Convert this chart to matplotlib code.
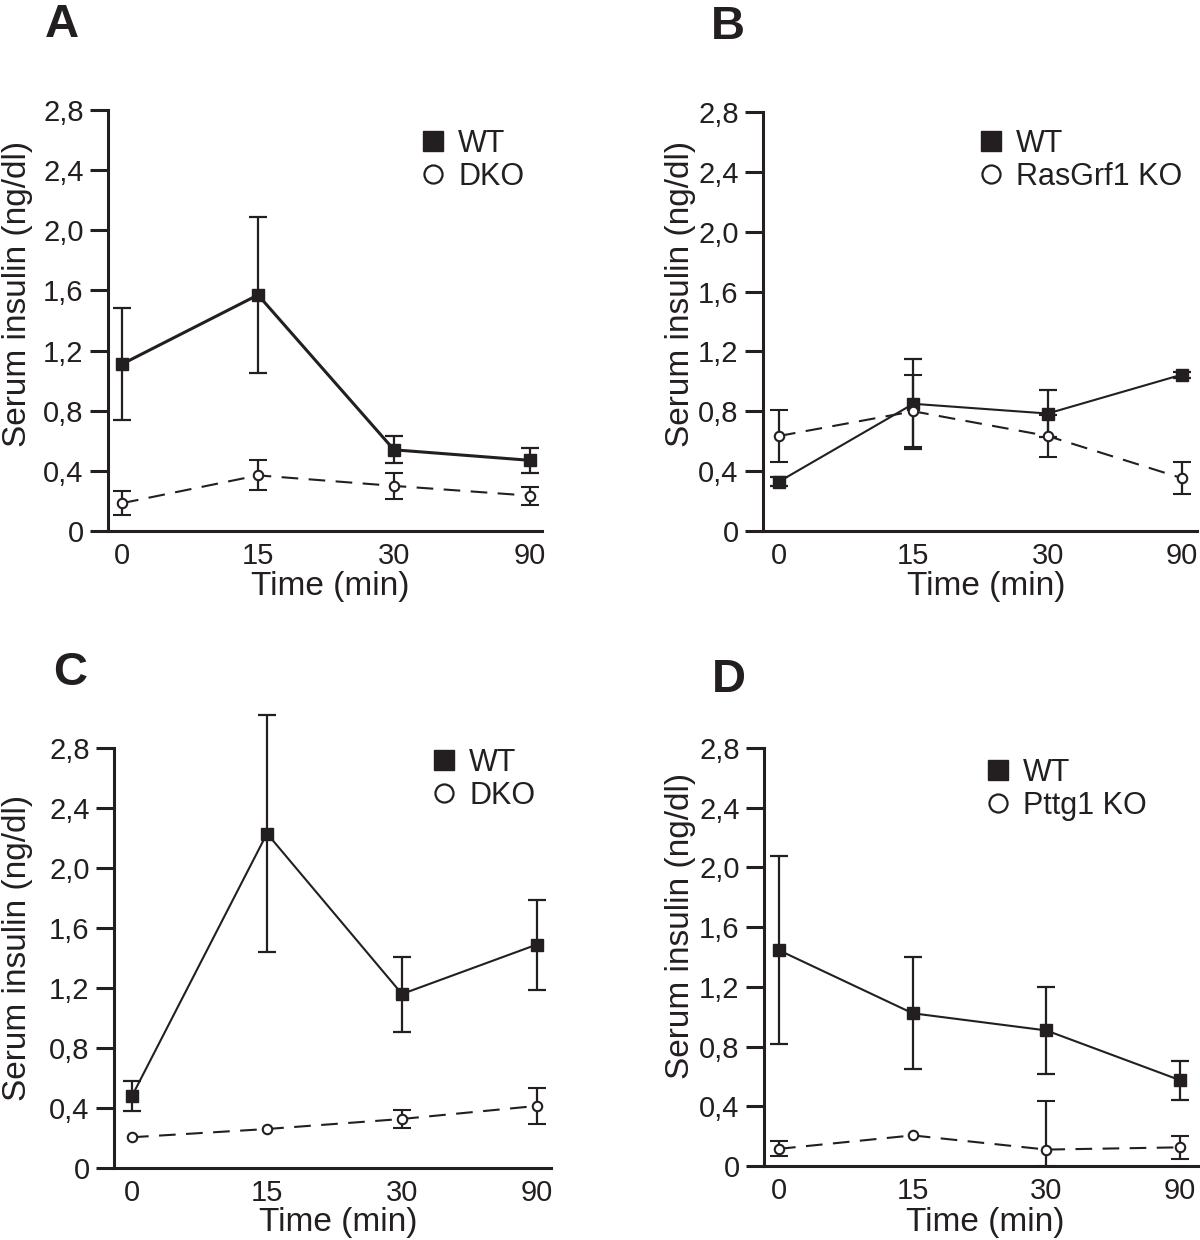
import matplotlib
matplotlib.use('Agg')
import matplotlib.pyplot as plt
from matplotlib.lines import Line2D
import numpy as np

plt.rcParams['font.family'] = ['Liberation Sans', 'DejaVu Sans']
plt.rcParams['lines.scale_dashes'] = False

K = '#231f20'

time_labels = ['0', '15', '30', '90']
ytick_vals = [0, 0.4, 0.8, 1.2, 1.6, 2.0, 2.4, 2.8]
ytick_labels = ['0', '0,4', '0,8', '1,2', '1,6', '2,0', '2,4', '2,8']

# Panel A: WT vs DKO
a_wt = [1.11, 1.57, 0.54, 0.47]
a_wt_err = [0.37, 0.52, 0.09, 0.085]
a_ko = [0.185, 0.37, 0.30, 0.235]
a_ko_err = [0.08, 0.10, 0.085, 0.06]

# Panel B: WT vs RasGrf1 KO
b_wt = [0.33, 0.85, 0.785, 1.045]
b_wt_err = [0.03, 0.30, 0.157, 0.02]
b_ko = [0.635, 0.80, 0.635, 0.353]
b_ko_err = [0.175, 0.24, 0.14, 0.105]

# Panel C: WT vs DKO
c_wt = [0.48, 2.23, 1.16, 1.49]
c_wt_err = [0.10, 0.79, 0.25, 0.30]
c_ko = [0.205, 0.26, 0.327, 0.414]
c_ko_err = [np.nan, np.nan, 0.06, 0.12]

# Panel D: WT vs Pttg1 KO
d_wt = [1.445, 1.023, 0.908, 0.575]
d_wt_err = [0.63, 0.375, 0.29, 0.13]
d_ko = [0.115, 0.205, 0.11, 0.125]
d_ko_err_low = [0.05, np.nan, 0.11, 0.075]
d_ko_err_high = [0.05, np.nan, 0.325, 0.075]

W, H = 1200, 1240
fig = plt.figure(figsize=(W / 100, H / 100), dpi=100)
fig.patch.set_facecolor('white')

YTOP = 3.05  # data room above the 2,8 spine end

panels = [
    dict(letter='A', lpos=(62, 37), left=108, right=542, y0=531, y28=110, x0=122, x90=530,
         wt=a_wt, wt_err=a_wt_err, ko=a_ko, ko_err=a_ko_err, ko_name='DKO', wt_lw=2.2,
         leg=(418, 129), ylab=(18, 294), xlab=(330, 586)),
    dict(letter='B', lpos=(728, 39), left=763, right=1197, y0=531, y28=112, x0=779, x90=1182,
         wt=b_wt, wt_err=b_wt_err, ko=b_ko, ko_err=b_ko_err, ko_name='RasGrf1 KO', wt_lw=1.5,
         leg=(976, 129), ylab=(680, 294), xlab=(986, 586)),
    dict(letter='C', lpos=(70, 685), left=114, right=551, y0=1168, y28=748, x0=132, x90=537,
         wt=c_wt, wt_err=c_wt_err, ko=c_ko, ko_err=c_ko_err, ko_name='DKO', wt_lw=1.5,
         leg=(429, 748), ylab=(18, 948), xlab=(338, 1223)),
    dict(letter='D', lpos=(729, 692), left=764, right=1198, y0=1166, y28=748, x0=779, x90=1180,
         wt=d_wt, wt_err=d_wt_err, ko=d_ko, ko_err=[d_ko_err_low, d_ko_err_high],
         ko_name='Pttg1 KO', wt_lw=1.5,
         leg=(983, 758), ylab=(680, 926), xlab=(985, 1222)),
]

x = np.arange(len(time_labels))

for p in panels:
    unit = (p['y0'] - p['y28']) / 2.8
    top_px = p['y0'] - unit * YTOP
    rect = [p['left'] / W, 1 - p['y0'] / H, (p['right'] - p['left']) / W, (p['y0'] - top_px) / H]
    ax = fig.add_axes(rect)
    sp = (p['x90'] - p['x0']) / 3.0
    ax.set_xlim(-(p['x0'] - p['left']) / sp, 3 + (p['right'] - p['x90']) / sp)
    ax.set_ylim(0, YTOP)
    ax.patch.set_alpha(0)

    ax.errorbar(x, p['wt'], yerr=p['wt_err'], fmt='-s', color=K, lw=p['wt_lw'], ms=9,
                elinewidth=1.6, capsize=6.5, capthick=1.6, zorder=3)
    ax.errorbar(x, p['ko'], yerr=p['ko_err'], fmt='--o', color=K, lw=1.5, ms=6.8,
                mfc='white', mec=K, mew=1.5, dashes=(12, 7.5),
                elinewidth=1.6, capsize=6.5, capthick=1.6, zorder=4)

    for s in ['top', 'right']:
        ax.spines[s].set_visible(False)
    for s in ['left', 'bottom']:
        ax.spines[s].set_linewidth(2.2)
        ax.spines[s].set_color(K)
    ax.spines['left'].set_bounds(0, 2.8)

    ax.set_yticks(ytick_vals)
    ax.set_yticklabels(ytick_labels)
    ax.set_xticks(x)
    ax.set_xticklabels(time_labels)
    ax.tick_params(axis='y', direction='out', length=13, width=2.2, pad=4.5,
                   labelsize=21, color=K, labelcolor=K)
    ax.tick_params(axis='x', length=0, pad=8, labelsize=21, labelcolor=K)

    handles = [Line2D([], [], marker='s', ls='none', color=K, ms=14.5),
               Line2D([], [], marker='o', ls='none', color=K, mfc='white', mec=K, ms=13, mew=1.6)]
    ax.legend(handles, ['WT', p['ko_name']], loc='upper left',
              bbox_to_anchor=(p['leg'][0] / W, 1 - p['leg'][1] / H),
              bbox_transform=fig.transFigure, frameon=False, borderpad=0, borderaxespad=0,
              handlelength=1.0, handletextpad=0.32, labelspacing=0.1, fontsize=22,
              labelcolor=K)

    fig.text(p['lpos'][0] / W, 1 - p['lpos'][1] / H, p['letter'], ha='center', va='baseline',
             fontsize=34, fontweight='bold', color=K)
    fig.text(p['ylab'][0] / W, 1 - p['ylab'][1] / H, 'Serum insulin (ng/dl)', rotation=90,
             ha='center', va='center', fontsize=24, color=K)
    fig.text(p['xlab'][0] / W, 1 - p['xlab'][1] / H, 'Time (min)', ha='center', va='center',
             fontsize=24, color=K)

fig.savefig('out.png', dpi=100, facecolor='white')
